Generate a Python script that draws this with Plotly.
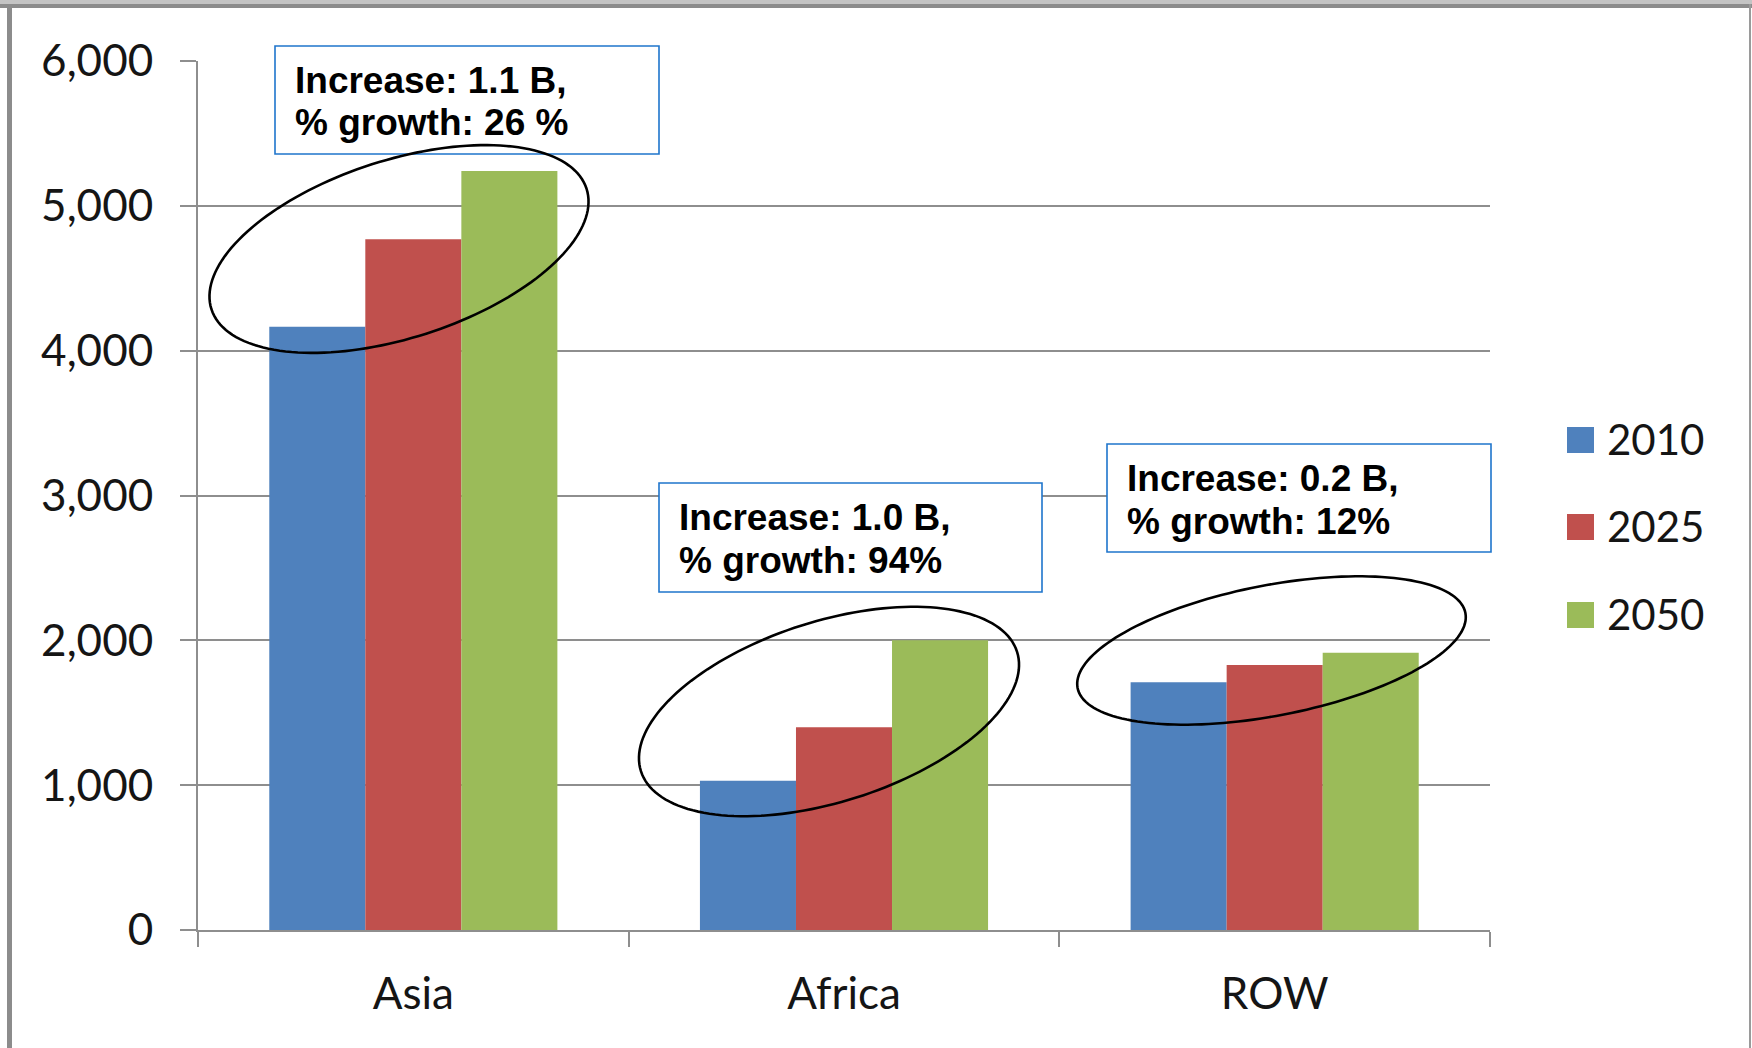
import numpy as np
import plotly.graph_objects as go

# ---------------- data ----------------
categories = ["Asia", "Africa", "ROW"]
years = ["2010", "2025", "2050"]
pop_2010 = [4165, 1030, 1710]
pop_2025 = [4770, 1400, 1830]
pop_2050 = [5240, 2000, 1915]
series_colors = ["#4F81BD", "#C0504D", "#9BBB59"]
y_ticks = [0, 1000, 2000, 3000, 4000, 5000, 6000]
box_lines = [
    ["Increase: 1.1 B,", "% growth: 26 %"],
    ["Increase: 1.0 B,", "% growth: 94%"],
    ["Increase: 0.2 B,", "% growth: 12%"],
]

# ---------------- geometry (pixels) ----------------
W, H = 1752, 1048
L, R, T, B = 198, 1490, 61, 930


def px(x):
    return (x - L) / (R - L)


def py(y):
    return (B - y) / (B - T)


GRID = "#8E8E8E"
AXIS_FONT = dict(family="Lato, Carlito, sans-serif", size=44, color="#151515")
LEG_FONT = dict(family="Lato, Carlito, sans-serif", size=42, color="#151515")
BOX_FONT = dict(family="Liberation Sans, Arial, sans-serif", size=37, color="#000000")

fig = go.Figure()
for name, vals, col in zip(years, [pop_2010, pop_2025, pop_2050], series_colors):
    fig.add_trace(go.Bar(x=categories, y=vals, name=name, marker_color=col,
                         marker_line_width=0, showlegend=False))

shapes = []
annotations = []

# outer frame
shapes.append(dict(type="rect", xref="paper", yref="paper", x0=px(0), x1=px(W), y0=py(0), y1=py(4),
                   fillcolor="#C4C4C4", line_width=0, layer="above"))
shapes.append(dict(type="rect", xref="paper", yref="paper", x0=px(0), x1=px(W), y0=py(4), y1=py(8),
                   fillcolor="#8C8C8C", line_width=0, layer="above"))
shapes.append(dict(type="rect", xref="paper", yref="paper", x0=px(7), x1=px(12), y0=py(4), y1=py(H),
                   fillcolor="#8C8C8C", line_width=0, layer="above"))
shapes.append(dict(type="rect", xref="paper", yref="paper", x0=px(1749), x1=px(1751), y0=py(4), y1=py(H),
                   fillcolor="#9A9A9A", line_width=0, layer="above"))

# text boxes
boxes = [(275, 659, 46, 154), (659, 1042, 483, 592), (1107, 1491, 444, 552)]
for (x0, x1, y0, y1), lines in zip(boxes, box_lines):
    shapes.append(dict(type="rect", xref="paper", yref="paper", x0=px(x0), x1=px(x1), y0=py(y0), y1=py(y1),
                       fillcolor="white", line=dict(color="#1F75CC", width=1.6), layer="above"))
    for i, txt in enumerate(lines):
        annotations.append(dict(xref="paper", yref="paper", x=px(x0 + 18), y=py(y0 + 34.5 + 42.5 * i),
                                xanchor="left", yanchor="middle", text=f"<b>{txt}</b>",
                                showarrow=False, font=BOX_FONT))


# ellipses
def ellipse_path(cx, cy, a, b, th_deg, n=160):
    th = np.radians(th_deg)
    t = np.linspace(0, 2 * np.pi, n, endpoint=False)
    xs = cx + a * np.cos(t) * np.cos(th) - b * np.sin(t) * np.sin(th)
    ys = cy - (a * np.cos(t) * np.sin(th) + b * np.sin(t) * np.cos(th))
    pts = [f"{px(x):.5f},{py(y):.5f}" for x, y in zip(xs, ys)]
    return "M" + " L".join(pts) + " Z"


ellipses = [(399, 249, 197, 88.9, 17.8), (829, 711.5, 197.3, 90.3, 17.6), (1271.5, 650.5, 197.5, 65.2, 10.95)]
for e in ellipses:
    shapes.append(dict(type="path", xref="paper", yref="paper", path=ellipse_path(*e),
                       line=dict(color="black", width=2.6), layer="above"))

# legend (manual, larger symbols)
leg_y = [440, 527, 615]
for name, col, yc in zip(years, series_colors, leg_y):
    shapes.append(dict(type="rect", xref="paper", yref="paper", x0=px(1567), x1=px(1594),
                       y0=py(yc - 13), y1=py(yc + 13), fillcolor=col, line_width=0, layer="above"))
    annotations.append(dict(xref="paper", yref="paper", x=px(1605), y=py(yc - 1), xanchor="left",
                            yanchor="middle", text=name, showarrow=False, font=LEG_FONT))

fig.update_layout(
    width=W, height=H, autosize=False,
    margin=dict(l=L, r=W - R, t=T, b=H - B, pad=0),
    paper_bgcolor="white", plot_bgcolor="white",
    barmode="group", bargap=0.331, bargroupgap=0,
    showlegend=False,
    shapes=shapes, annotations=annotations,
)
fig.update_yaxes(range=[0, 6000], tickvals=y_ticks, tickformat=",d", showgrid=True, gridcolor=GRID,
                 gridwidth=2, showline=True, linecolor=GRID, linewidth=2, ticks="outside", ticklen=16,
                 tickwidth=2, tickcolor=GRID, zeroline=False, tickfont=AXIS_FONT, ticklabelstandoff=18)
fig.update_xaxes(showline=True, linecolor=GRID, linewidth=2, ticks="outside", tickson="boundaries",
                 ticklen=15, tickwidth=2, tickcolor=GRID, tickfont=AXIS_FONT, ticklabelstandoff=24,
                 showgrid=False)

fig.write_html("out.html")
